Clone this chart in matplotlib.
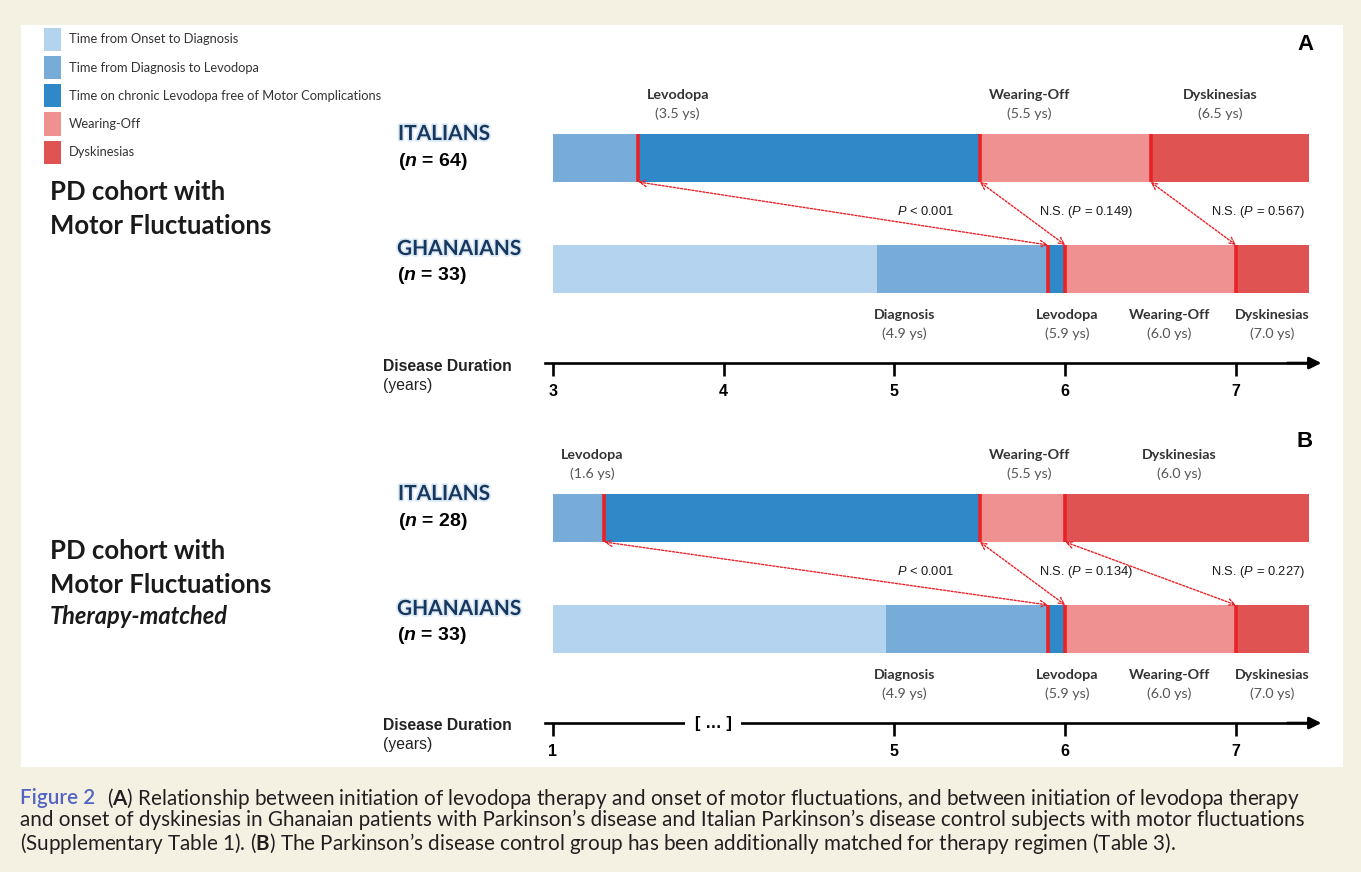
import numpy as np
import matplotlib
matplotlib.use("Agg")
import matplotlib.pyplot as plt
from matplotlib.patches import Patch, Rectangle
import matplotlib.patheffects as pe

plt.rcParams["mathtext.fontset"] = "custom"
plt.rcParams["mathtext.rm"] = "Liberation Sans"
plt.rcParams["mathtext.it"] = "Liberation Sans:italic"
plt.rcParams["mathtext.bf"] = "Lato:bold"
plt.rcParams["mathtext.bfit"] = "Liberation Sans:italic:bold"

# ---- data ----
segments = ["Time from Onset to Diagnosis", "Time from Diagnosis to Levodopa",
            "Time on chronic Levodopa free of Motor Complications",
            "Wearing-Off", "Dyskinesias"]
seg_colors = ["#b3d3ee", "#77acd9", "#2f89c9", "#f09191", "#e05353"]

ita_events = ["Levodopa", "Wearing-Off", "Dyskinesias"]
gha_events = ["Diagnosis", "Levodopa", "Wearing-Off", "Dyskinesias"]
ita_times_a = [3.5, 5.5, 6.5]
ita_times_b = [1.6, 5.5, 6.0]
gha_times = [4.9, 5.9, 6.0, 7.0]
n_ita = [64, 28]
n_gha = [33, 33]
p_a = ["<0.001", "0.149", "0.567"]
p_b = ["<0.001", "0.134", "0.227"]
ticks_a = [3, 4, 5, 6, 7]
ticks_b = [1, 5, 6, 7]

# ---- layout ----
W, H = 1361, 872
RED = "#ea2228"
bar_end = 7.43
bar_h = 0.432
y_axis = -0.847
ita_lab_x = [[3.73, 5.79, 6.91], [1.456, 5.79, 6.67]]
gha_lab_x = [5.06, 6.01, 6.61, 7.21]
p_x = [5.18, 6.12, 7.13]

fig = plt.figure(figsize=(W / 100, H / 100), dpi=100, facecolor="#f4f1e3")
fig.patches.append(Rectangle((21 / W, 1 - 767 / H), (1343 - 21) / W, (767 - 25) / H,
                             transform=fig.transFigure, fc="white", ec="none", zorder=-5))


def ftext(x, y, s, **kw):
    return fig.text(x / W, 1 - y / H, s, **kw)


def fwd(x):
    x = np.asarray(x, float)
    return np.where(x < 5, 5 - (5 - x) * 0.5, x)


def inv(y):
    y = np.asarray(y, float)
    return np.where(y < 5, 5 - (5 - y) / 0.5, y)


def make_axes(top):
    ax = fig.add_axes([540 / W, 1 - (top + 375) / H, (1335 - 540) / W, 375 / H])
    ax.set_facecolor("none")
    ax.set_ylim(-1.225, 2.153)
    for s in ["left", "right", "top"]:
        ax.spines[s].set_visible(False)
    ax.set_yticks([])
    return ax


def draw_panel(ax, x0, ita_times, pvals, ticks, lab_x):
    # bars
    edges = [x0] + ita_times + [bar_end]
    for i in range(len(edges) - 1):
        ax.barh(1, edges[i + 1] - edges[i], left=edges[i], height=bar_h,
                color=seg_colors[i + 1], lw=0)
    edges = [x0] + gha_times + [bar_end]
    for i in range(len(edges) - 1):
        ax.barh(0, edges[i + 1] - edges[i], left=edges[i], height=bar_h,
                color=seg_colors[i], lw=0)
    ax.vlines(ita_times, 1 - bar_h / 2, 1 + bar_h / 2, color=RED, lw=2.6, zorder=3)
    ax.vlines(gha_times[1:], -bar_h / 2, bar_h / 2, color=RED, lw=2.6, zorder=3)

    # comparison arrows
    for i in range(3):
        ax.annotate("", xy=(gha_times[i + 1], bar_h / 2), xytext=(ita_times[i], 1 - bar_h / 2),
                    arrowprops=dict(arrowstyle="<->", color=RED, lw=1.0, ls=(0, (1.5, 1.2)),
                                    shrinkA=0, shrinkB=0, mutation_scale=12))
        if pvals[i].startswith("<"):
            s = r"$\mathit{P}$" + " < " + pvals[i][1:]
        else:
            s = "N.S. (" + r"$\mathit{P}$" + " = " + pvals[i] + ")"
        ax.text(p_x[i], 0.514, s, ha="center", va="center", fontsize=9.3,
                family="Liberation Sans", color="#1a1a1a")

    # event labels
    for name, t, x in zip(ita_events, ita_times, lab_x):
        ax.text(x, 1.568, name, ha="center", va="center", fontsize=10.3,
                family="Lato", weight="bold", color="#333333")
        ax.text(x, 1.396, "(%.1f ys)" % t, ha="center", va="center", fontsize=10.3,
                family="Lato", color="#555555")
    for name, t, x in zip(gha_events, gha_times, gha_lab_x):
        ax.text(x, -0.414, name, ha="center", va="center", fontsize=10.3,
                family="Lato", weight="bold", color="#333333")
        ax.text(x, -0.586, "(%.1f ys)" % t, ha="center", va="center", fontsize=10.3,
                family="Lato", color="#555555")

    # time axis
    sp = ax.spines["bottom"]
    sp.set_position(("data", y_axis))
    sp.set_linewidth(1.9)
    ax.set_xticks(ticks)
    ax.set_xticklabels([str(t) for t in ticks], fontsize=11.5, weight="bold",
                       family="Liberation Sans")
    ax.tick_params(axis="x", direction="out", length=9, width=1.9, pad=6)
    ax.annotate("", xy=(7.5, y_axis), xytext=(7.3, y_axis),
                arrowprops=dict(arrowstyle="-|>", color="black", lw=1.9,
                                shrinkA=0, shrinkB=0, mutation_scale=18))


# panel A
axA = make_axes(30)
axA.set_xlim(2.9239, 7.58)
axA.spines["bottom"].set_bounds(2.953, 7.45)
draw_panel(axA, ticks_a[0], ita_times_a, p_a, ticks_a, ita_lab_x[0])

# panel B (compressed 1-5 years)
axB = make_axes(390)
axB.set_xscale("function", functions=(fwd, inv))
axB.set_xlim(0.8478, 7.58)
axB.spines["bottom"].set_bounds(0.906, 7.45)
draw_panel(axB, ticks_b[0], ita_times_b, p_b, ticks_b, ita_lab_x[1])
axB.text(2.874, y_axis, "[ \u2026 ]", ha="center", va="center", fontsize=12, weight="bold",
         family="Liberation Sans", bbox=dict(boxstyle="square,pad=0.55", fc="white", ec="none"))

# left-hand labels
glow = [pe.withStroke(linewidth=2.5, foreground="#dbe8f5")]
for k, dy in enumerate([0, 360]):
    ftext(398, 134 + dy, "ITALIANS", fontsize=15, family="Lato", weight="bold",
          color="#17375e", va="center", path_effects=glow)
    ftext(398, 161 + dy, "(" + r"$\mathbfit{n}$" + " = %d)" % n_ita[k], fontsize=14,
          family="Liberation Sans", weight="bold", va="center")
    ftext(397, 249 + dy, "GHANAIANS", fontsize=15, family="Lato", weight="bold",
          color="#17375e", va="center", path_effects=glow)
    ftext(397, 275 + dy, "(" + r"$\mathbfit{n}$" + " = %d)" % n_gha[k], fontsize=14,
          family="Liberation Sans", weight="bold", va="center")
    ftext(383, 366 + dy, "Disease Duration", fontsize=11.3, family="Liberation Sans",
          weight="bold", va="center", color="#222222")
    ftext(383, 385 + dy, "(years)", fontsize=11.3, family="Liberation Sans", va="center",
          color="#222222")
    ftext(50, 192 + dy - (1 if k else 0), "PD cohort with", fontsize=18.5, family="Lato",
          weight="bold", va="center", color="#1a1a1a")
    ftext(50, 226 + dy - (1 if k else 0), "Motor Fluctuations", fontsize=18.5, family="Lato",
          weight="bold", va="center", color="#1a1a1a")
ftext(50, 616, "Therapy-matched", fontsize=17, family="Lato", weight="bold",
      style="italic", va="center", color="#1a1a1a")
ftext(1305, 45, "A", fontsize=16, family="Liberation Sans", weight="bold",
      ha="center", va="center")
ftext(1305, 441, "B", fontsize=16, family="Liberation Sans", weight="bold",
      ha="center", va="center")

# legend
handles = [Patch(fc=c, ec="none") for c in seg_colors]
fig.legend(handles, segments, loc="upper left", bbox_to_anchor=(44 / W, 1 - 28 / H),
           frameon=False, borderaxespad=0, borderpad=0,
           prop=dict(family="Lato", size=9.25), handlelength=1.35, handleheight=2.38,
           labelspacing=0.4, handletextpad=0.6, labelcolor="#333333")

# caption
cap_kw = dict(fontsize=14.9, family="Lato", va="center", color="#231f20")
t0 = ftext(20, 798, "Figure 2", fontsize=14.9, family="Lato", va="center", color="#5265c2",
           weight="semibold")
fig.canvas.draw()
bb = t0.get_window_extent()
ftext(bb.x1 + 12, 798, r"($\mathbf{A}$) Relationship between initiation of levodopa therapy and "
      "onset of motor fluctuations, and between initiation of levodopa therapy", **cap_kw)
ftext(20, 820, "and onset of dyskinesias in Ghanaian patients with Parkinson\u2019s disease and "
      "Italian Parkinson\u2019s disease control subjects with motor fluctuations", **cap_kw)
ftext(20, 843, r"(Supplementary Table 1). ($\mathbf{B}$) The Parkinson" + "\u2019s disease control "
      "group has been additionally matched for therapy regimen (Table 3).", **cap_kw)

fig.savefig("out.png", dpi=100, facecolor=fig.get_facecolor())
